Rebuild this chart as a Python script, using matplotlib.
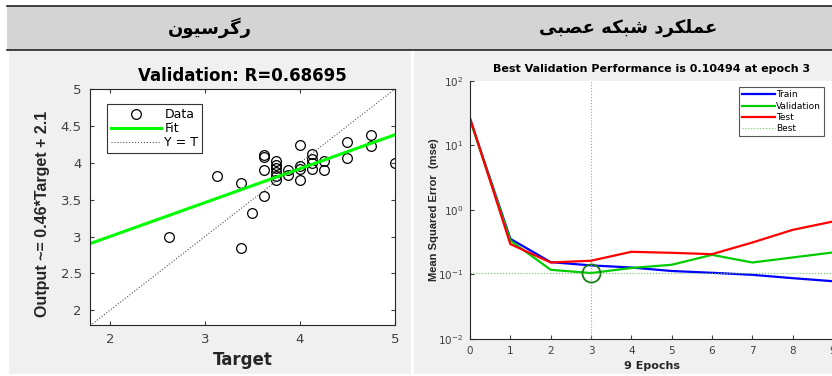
import matplotlib
matplotlib.use('Agg')
import matplotlib.pyplot as plt
from matplotlib.patches import Rectangle
from matplotlib.lines import Line2D

# la captura esta estirada en horizontal: DejaVu (mas ancha) para textos horizontales
plt.rcParams['font.family'] = ['DejaVu Sans']

# encabezados de la tabla (texto persa)
titulo_izq = 'رگرسیون'
titulo_der = 'عملکرد شبکه عصبی'

# datos de regresion (validacion)
target = [2.625, 3.125, 3.375, 3.375, 3.5, 3.625, 3.625, 3.625, 3.625,
          3.75, 3.75, 3.75, 3.75, 3.75, 3.75, 3.875, 3.875,
          4.0, 4.0, 4.0, 4.0, 4.125, 4.125, 4.125, 4.125,
          4.25, 4.25, 4.5, 4.5, 4.75, 4.75, 5.0]
output = [3.0, 3.815, 3.72, 2.85, 3.32, 3.545, 4.08, 4.10, 3.90,
          4.02, 3.97, 3.93, 3.88, 3.815, 3.76, 3.90, 3.84,
          4.24, 3.95, 3.92, 3.76, 4.12, 4.05, 3.99, 3.915,
          4.02, 3.90, 4.28, 4.07, 4.375, 4.23, 3.99]
pendiente = 0.46
ordenada = 2.08
R = 0.68695

# rendimiento de la red
epocas = [0, 1, 2, 3, 4, 5, 6, 7, 8, 9]
train = [25.5, 0.356, 0.155, 0.138, 0.128, 0.113, 0.106, 0.0986, 0.0875, 0.0785]
valid = [25.0, 0.335, 0.118, 0.10494, 0.126, 0.141, 0.201, 0.153, 0.183, 0.219]
test = [26.5, 0.295, 0.153, 0.163, 0.224, 0.216, 0.206, 0.312, 0.49, 0.66]
mejor_epoca = 3
mejor_valor = 0.10494

# formas de presentacion arabes (matplotlib no une las letras)
formas = {
    'ر': ('\uFEAD', '\uFEAE', None, None),
    'د': ('\uFEA9', '\uFEAA', None, None),
    'و': ('\uFEED', '\uFEEE', None, None),
    'گ': ('\uFB92', '\uFB93', '\uFB94', '\uFB95'),
    'ک': ('\uFB8E', '\uFB8F', '\uFB90', '\uFB91'),
    'ی': ('\uFBFC', '\uFBFD', '\uFBFE', '\uFBFF'),
    'س': ('\uFEB1', '\uFEB2', '\uFEB3', '\uFEB4'),
    'ش': ('\uFEB5', '\uFEB6', '\uFEB7', '\uFEB8'),
    'ص': ('\uFEB9', '\uFEBA', '\uFEBB', '\uFEBC'),
    'ع': ('\uFEC9', '\uFECA', '\uFECB', '\uFECC'),
    'ل': ('\uFEDD', '\uFEDE', '\uFEDF', '\uFEE0'),
    'م': ('\uFEE1', '\uFEE2', '\uFEE3', '\uFEE4'),
    'ن': ('\uFEE5', '\uFEE6', '\uFEE7', '\uFEE8'),
    'ه': ('\uFEE9', '\uFEEA', '\uFEEB', '\uFEEC'),
    'ب': ('\uFE8F', '\uFE90', '\uFE91', '\uFE92'),
}

def dual(c):
    return c in formas and formas[c][2] is not None

def reshape(s):
    res = ''
    for i, c in enumerate(s):
        if c not in formas:
            res += c
            continue
        prev = i > 0 and dual(s[i-1])
        sig = i < len(s)-1 and s[i+1] in formas and dual(c)
        if prev and sig:
            res += formas[c][3]
        elif prev:
            res += formas[c][1]
        elif sig:
            res += formas[c][2]
        else:
            res += formas[c][0]
    return res[::-1]

W, H = 832, 376
fig = plt.figure(figsize=(W/100, H/100), dpi=100)
fig.patch.set_facecolor('white')

def px(x0, y0, x1, y1):
    # caja en pixeles (origen arriba a la izquierda) -> coords de figura
    return [x0/W, 1-y1/H, (x1-x0)/W, (y1-y0)/H]

# fondo de tabla
r = px(7, 6, 832, 50)
fig.patches.append(Rectangle((r[0], r[1]), r[2], r[3], transform=fig.transFigure,
                             facecolor='#d4d4d4', edgecolor='none', zorder=-2))
fig.add_artist(Line2D([7/W, 1], [1-6/H, 1-6/H], color='#222222', lw=1.2, zorder=-1))
fig.add_artist(Line2D([7/W, 1], [1-50/H, 1-50/H], color='#222222', lw=1.2, zorder=-1))
for caja in [px(9, 51, 411, 374), px(414, 51, 832, 374)]:
    fig.patches.append(Rectangle((caja[0], caja[1]), caja[2], caja[3], transform=fig.transFigure,
                                 facecolor='#f0f0f0', edgecolor='none', zorder=-2))

fig.text(210/W, 1-28/H, reshape(titulo_izq), fontweight='bold',
         fontsize=13, ha='center', va='center')
fig.text(628/W, 1-28/H, reshape(titulo_der), fontweight='bold',
         fontsize=13, ha='center', va='center')

gris = '#404040'

# ---------------------------------------------------------------- regresion
ax1 = fig.add_axes(px(90, 89, 395, 325))
ax1.set_facecolor('white')
xs = [1.79, 5.0]
ax1.plot(target, output, 'o', mfc='none', mec='black', ms=7, mew=0.9, label='Data')
ax1.plot(xs, [pendiente*x + ordenada for x in xs], color='#00ff00', lw=2.2, label='Fit')
ax1.plot(xs, xs, ':', color='#555555', lw=0.8, label='Y = T')
ax1.set_xlim(1.79, 5)
ax1.set_ylim(1.8, 5)
ax1.set_xticks([2, 3, 4, 5])
ax1.set_yticks([2, 2.5, 3, 3.5, 4, 4.5, 5])
ax1.set_yticklabels(['2', '2.5', '3', '3.5', '4', '4.5', '5'])
ax1.tick_params(direction='in', top=True, right=True, length=3, labelsize=9.5,
                labelcolor=gris, color=gris, pad=6)
for s in ax1.spines.values():
    s.set_color('#262626')
    s.set_linewidth(0.8)
ax1.set_title('Validation: R=%.5f' % R, fontsize=12, fontweight='bold', pad=6)
ax1.set_xlabel('Target', fontsize=12, fontweight='bold', color='#262626')
ax1.xaxis.set_label_coords(0.5, -0.11)
ax1.set_ylabel('Output ~= %.2f*Target + %.1f' % (pendiente, 2.1), fontsize=11.5,
               family=['Liberation Sans'], fontweight='bold', color='#262626')
ax1.yaxis.set_label_coords(-0.13, 0.47)
leg = ax1.legend(loc='upper left', bbox_to_anchor=(0.035, 0.962), fontsize=9,
                 handlelength=4.0, fancybox=False, framealpha=1, borderpad=0.3,
                 labelspacing=0.1, handletextpad=0.3)
leg.get_frame().set_edgecolor('#333333')
leg.get_frame().set_linewidth(0.8)

# ---------------------------------------------------------------- rendimiento
ax2 = fig.add_axes(px(470, 80.7, 833, 339))
ax2.set_facecolor('white')
ax2.semilogy(epocas, train, color='#0000ff', lw=1.6, label='Train')
ax2.semilogy(epocas, valid, color='#00cc00', lw=1.6, label='Validation')
ax2.semilogy(epocas, test, color='#ff0000', lw=1.6, label='Test')
ax2.axvline(mejor_epoca, color='#66cc66', ls=':', lw=0.8, label='Best')
ax2.axhline(mejor_valor, color='#66cc66', ls=':', lw=0.8)
ax2.plot([mejor_epoca], [mejor_valor], 'o', mfc='none', mec='#158015', ms=13, mew=1.3)
ax2.set_xlim(0, 9)
ax2.set_ylim(0.01, 100)
ax2.set_xticks(epocas)
ax2.minorticks_off()
ax2.tick_params(direction='in', length=3, labelsize=7.5, labelcolor=gris, color=gris, pad=5)
ax2.spines['top'].set_visible(False)
ax2.spines['right'].set_visible(False)
for s in ['left', 'bottom']:
    ax2.spines[s].set_color('#262626')
    ax2.spines[s].set_linewidth(0.8)
ax2.set_title('Best Validation Performance is %.5f at epoch %d' % (mejor_valor, mejor_epoca),
              fontsize=8, fontweight='bold', pad=6)
ax2.set_xlabel('%d Epochs' % epocas[-1], fontsize=8, fontweight='bold', color='#262626')
ax2.xaxis.set_label_coords(0.5, -0.085)
ax2.set_ylabel('Mean Squared Error  (mse)', fontsize=8, family=['Liberation Sans'],
               fontweight='bold', color='#262626')
ax2.yaxis.set_label_coords(-0.085, 0.5)
leg2 = ax2.legend(loc='upper right', bbox_to_anchor=(0.988, 0.992), fontsize=6.5,
                  handlelength=3.6, fancybox=False, framealpha=1, borderpad=0.35,
                  labelspacing=0.25, handletextpad=0.15)
leg2.get_frame().set_edgecolor('#555555')
leg2.get_frame().set_linewidth(0.8)

fig.savefig('out.png', dpi=100)
